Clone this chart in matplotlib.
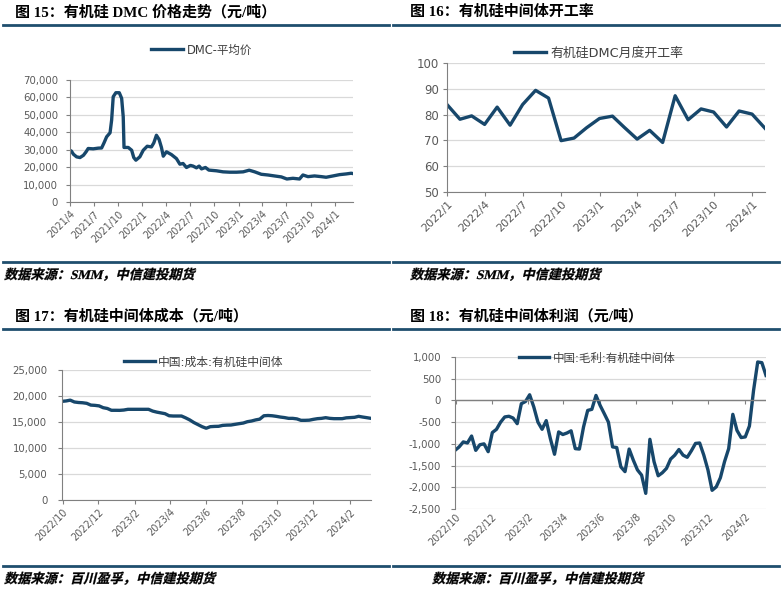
#Silicone chain charts: DMC price, run rate, cost and margin (4 panels)

import numpy as np
import pandas as pd
import matplotlib
matplotlib.use('Agg')
import matplotlib.pyplot as plt
import matplotlib.dates as mdates
from matplotlib.ticker import FuncFormatter, MultipleLocator, NullFormatter
from matplotlib.textpath import TextPath
from matplotlib.font_manager import FontProperties
from matplotlib.patches import PathPatch
from matplotlib.transforms import Affine2D

plt.rcParams['font.family'] = ['DejaVu Sans', 'Noto Sans CJK SC']

#Data
dmc_dates = ['2021-04-01', '2021-04-06', '2021-04-14', '2021-04-26', '2021-05-09', '2021-05-22',
             '2021-06-01', '2021-06-09', '2021-06-28', '2021-07-17', '2021-07-30', '2021-08-08',
             '2021-08-18', '2021-08-31', '2021-09-06', '2021-09-12', '2021-09-22', '2021-10-05',
             '2021-10-14', '2021-10-20', '2021-10-23', '2021-11-08', '2021-11-21', '2021-11-29',
             '2021-12-07', '2021-12-22', '2022-01-04', '2022-01-19', '2022-02-04', '2022-02-13',
             '2022-02-23', '2022-03-05', '2022-03-14', '2022-03-21', '2022-04-02', '2022-04-21',
             '2022-05-10', '2022-05-23', '2022-06-04', '2022-06-17', '2022-07-02', '2022-07-12',
             '2022-07-25', '2022-08-04', '2022-08-13', '2022-08-28', '2022-09-10', '2022-10-09',
             '2022-11-03', '2022-11-28', '2022-12-24', '2023-01-18', '2023-02-10', '2023-03-03',
             '2023-03-28', '2023-04-22', '2023-05-17', '2023-06-12', '2023-07-03', '2023-07-26',
             '2023-08-20', '2023-09-02', '2023-09-21', '2023-10-16', '2023-11-11', '2023-11-29',
             '2023-12-25', '2024-01-19', '2024-02-13', '2024-03-03', '2024-03-10']
dmc_price = [29500, 29300, 27400, 25900, 25500, 26800,
             28800, 30700, 30500, 30900, 31000, 33900,
             37400, 39700, 47000, 60400, 62700, 62700,
             59500, 48900, 31300, 31300, 29700, 25500,
             24000, 25900, 29700, 32000, 31600, 33900,
             38300, 35900, 31300, 26300, 28800, 27200,
             24900, 21700, 22100, 19800, 21000, 20600,
             19600, 20600, 19000, 19800, 18300, 17900,
             17300, 17100, 17100, 17300, 18250, 17300,
             15900, 15500, 14950, 14400, 13200, 13600,
             13200, 15500, 14550, 14950, 14550, 14200,
             14950, 15700, 16100, 16500, 16300]

rate_months = pd.date_range('2022-01-01', periods=26, freq='MS')
run_rate = [83.9, 78.2, 79.5, 76.2, 82.9, 75.9, 83.9, 89.4, 86.4, 69.9, 70.9, 74.9, 78.5,
            79.4, 75.1, 70.5, 73.9, 69.2, 87.3, 78.0, 82.2, 81.0, 75.2, 81.4, 80.2, 74.7]

weeks = pd.date_range('2022-09-30', periods=76, freq='7D')
cost = [18970, 19050, 19200, 18850, 18750, 18700, 18590, 18250, 18200, 18100,
        17750, 17600, 17250, 17250, 17240, 17300, 17440, 17440, 17440, 17440,
        17440, 17440, 17100, 16900, 16750, 16600, 16200, 16150, 16150, 16150,
        15800, 15400, 14900, 14500, 14100, 13800, 14100, 14150, 14170, 14350,
        14400, 14420, 14550, 14680, 14800, 15060, 15190, 15400, 15550, 16200,
        16250, 16200, 16090, 15950, 15850, 15700, 15700, 15600, 15320, 15320,
        15350, 15510, 15640, 15700, 15830, 15700, 15640, 15640, 15640, 15800,
        15850, 15900, 16090, 15950, 15830, 15700]
margin = [-1150, -1070, -955, -980, -820, -1150, -1020, -1000, -1180, -740,
          -665, -500, -380, -365, -405, -535, -75, -25, 130, -150,
          -500, -665, -465, -880, -1240, -725, -785, -750, -700, -1110,
          -1120, -610, -230, -205, 115, -115, -305, -500, -1070, -1085,
          -1530, -1640, -1120, -1375, -1600, -1720, -2140, -895, -1410, -1735,
          -1665, -1565, -1350, -1260, -1130, -1260, -1310, -1160, -990, -980,
          -1260, -1600, -2070, -1990, -1780, -1410, -1110, -320, -690, -855,
          -840, -590, 230, 885, 870, 575]

titles = ['图 15：有机硅 DMC 价格走势（元/吨）', '图 16：有机硅中间体开工率',
          '图 17：有机硅中间体成本（元/吨）', '图 18：有机硅中间体利润（元/吨）']
sources = ['数据来源：SMM，中信建投期货', '数据来源：SMM，中信建投期货',
           '数据来源：百川盈孚，中信建投期货', '数据来源：百川盈孚，中信建投期货']

W, H = 781, 591
line_c = '#17476B'
rule_c = '#1F4E6E'
grid_c = '#D9D9D9'
tick_c = '#595959'
cjk = ['Liberation Serif', 'Noto Sans CJK SC', 'DejaVu Sans']

fig = plt.figure(figsize=(W/100, H/100), dpi=100)
fig.patch.set_facecolor('white')

def px_axes(l, t, r, b):
	return fig.add_axes([l/W, 1-b/H, (r-l)/W, (b-t)/H])

def date_fmt(x, pos):
	d = mdates.num2date(x)
	return '%d/%d' % (d.year, d.month)

def style(ax, xfs, yfs, ypad):
	ax.set_facecolor('white')
	ax.grid(axis='y', color=grid_c, linewidth=0.9)
	ax.set_axisbelow(True)
	for s in ['top', 'right']:
		ax.spines[s].set_visible(False)
	ax.spines['left'].set_color('#808080')
	ax.spines['bottom'].set_color('#808080')
	ax.tick_params(axis='y', direction='out', length=3, color='#808080', labelsize=yfs, labelcolor=tick_c, pad=ypad)
	ax.tick_params(axis='x', direction='out', length=3, color='#808080', labelsize=xfs, labelcolor=tick_c, pad=2)
	ax.xaxis.set_major_formatter(FuncFormatter(date_fmt))
	for lab in ax.get_xticklabels():
		lab.set_rotation(45)
		lab.set_ha('right')
		lab.set_rotation_mode('anchor')

def legend(ax, x, y, fs, hl):
	ax.legend(loc='center left', bbox_to_anchor=(x/W, 1-y/H), bbox_transform=fig.transFigure,
	          frameon=False, handlelength=hl, handletextpad=0.3, borderpad=0, borderaxespad=0,
	          labelcolor='#404040', prop={'family': ['DejaVu Sans', 'Noto Sans CJK SC'], 'size': fs})

#slanted source line (the CJK font has no italic face)
def slanted_text(x, y, s, size):
	tp = TextPath((0, 0), s, size=size, prop=FontProperties(family=cjk, weight='bold'))
	tr = Affine2D().skew_deg(14, 0).scale(100/72).translate(x, H - y)
	fig.add_artist(PathPatch(tp, transform=tr, facecolor='black', edgecolor='black', lw=0.2))

#Frame: titles, rules, sources
for col, x0 in enumerate([0, 390]):
	for row, y0 in enumerate([0, 304]):
		i = row*2 + col
		tx = 15 if col == 0 else 410
		fig.text(tx/W, 1-(y0+12)/H, titles[i], fontsize=10.8, fontweight='bold', family=cjk, va='center')
		fig.add_artist(plt.Line2D([(x0+3)/W, (x0+389)/W], [1-(y0+25)/H]*2, color=rule_c, lw=2))
		fig.add_artist(plt.Line2D([(x0+3)/W, (x0+389)/W], [1-(y0+262)/H]*2, color=rule_c, lw=2))
		sx = [4, 410, 4, 432][i]
		slanted_text(sx, y0+279, sources[i], 9.5)

#Panel 1: DMC price
ax1 = px_axes(70, 80, 353, 202)
ax1.plot(pd.to_datetime(dmc_dates), dmc_price, color=line_c, lw=2.4, label='DMC-平均价')
ax1.set_ylim(0, 70000)
ax1.set_xlim(pd.Timestamp('2021-04-01'), pd.Timestamp('2024-03-10'))
ax1.yaxis.set_major_locator(MultipleLocator(10000))
ax1.yaxis.set_major_formatter(FuncFormatter(lambda v, p: f'{v:,.0f}'))
ax1.xaxis.set_major_locator(mdates.MonthLocator(bymonth=[1, 4, 7, 10]))
style(ax1, 7, 7.3, 5.5)
legend(ax1, 151, 50, 8.3, 2.8)

#Panel 2: run rate
ax2 = px_axes(447, 63, 765, 192)
ax2.plot(rate_months, run_rate, color=line_c, lw=2.4, label='有机硅DMC月度开工率')
ax2.set_ylim(50, 100)
ax2.set_xlim(rate_months[0], rate_months[-1])
ax2.yaxis.set_major_locator(MultipleLocator(10))
ax2.xaxis.set_major_locator(mdates.MonthLocator(bymonth=[1, 4, 7, 10]))
style(ax2, 8, 8.5, 3)
legend(ax2, 514, 53, 9.3, 2.5)

#Panel 3: cost
ax3 = px_axes(62, 370, 371, 500)
ax3.plot(weeks, cost, color=line_c, lw=2.4, label='中国:成本:有机硅中间体')
ax3.set_ylim(0, 25000)
ax3.set_xlim(weeks[0], weeks[-1])
ax3.yaxis.set_major_locator(MultipleLocator(5000))
ax3.yaxis.set_major_formatter(FuncFormatter(lambda v, p: f'{v:,.0f}'))
ax3.xaxis.set_major_locator(mdates.MonthLocator(bymonth=[2, 4, 6, 8, 10, 12]))
style(ax3, 7, 7.3, 7.5)
legend(ax3, 124, 362, 8.5, 2.6)

#Panel 4: margin
ax4 = px_axes(455, 357, 766, 509)
ax4.plot(weeks, margin, color=line_c, lw=2.4, label='中国:毛利:有机硅中间体')
ax4.set_ylim(-2500, 1000)
ax4.set_xlim(weeks[0], weeks[-1])
ax4.yaxis.set_major_locator(MultipleLocator(500))
ax4.yaxis.set_major_formatter(FuncFormatter(lambda v, p: f'{v:,.0f}'))
ax4.xaxis.set_major_locator(mdates.MonthLocator(bymonth=[2, 4, 6, 8, 10, 12]))
style(ax4, 7, 7.3, 7)
ax4.spines['bottom'].set_visible(False)
ax4.tick_params(axis='x', length=0)
#zero line carries the ticks
ax4.axhline(0, color='#808080', lw=1)
zero = ax4.secondary_xaxis(2500/3500)
zero.spines['bottom'].set_visible(False)
zero.spines['top'].set_visible(False)
zero.xaxis.set_major_locator(mdates.MonthLocator(bymonth=[2, 4, 6, 8, 10, 12]))
zero.xaxis.set_major_formatter(NullFormatter())
zero.xaxis.set_ticks_position('bottom')
zero.tick_params(axis='x', direction='out', length=3, color='#808080', labelbottom=False, labeltop=False)
legend(ax4, 519, 358, 8.3, 2.6)

plt.savefig('out.png', dpi=100)
